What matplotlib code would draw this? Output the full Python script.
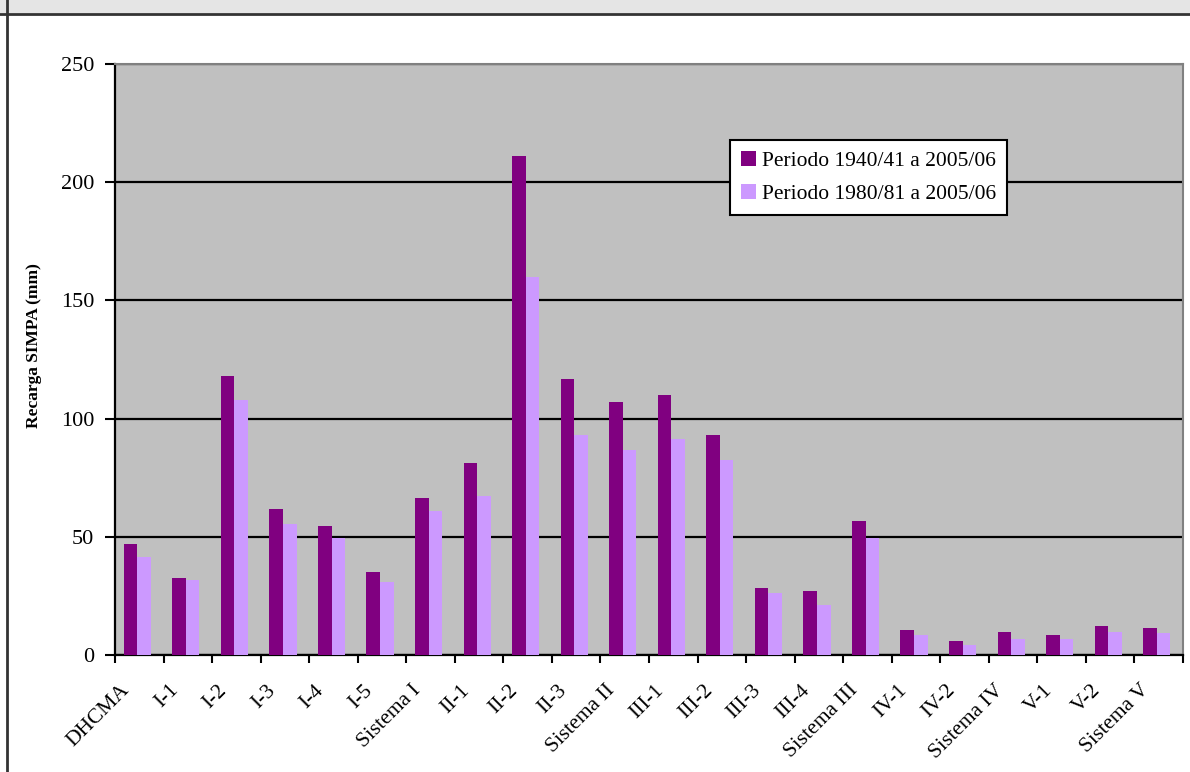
import numpy as np
import matplotlib
matplotlib.use("Agg")
import matplotlib.pyplot as plt
from matplotlib.patches import Rectangle
from matplotlib.lines import Line2D
from matplotlib.transforms import ScaledTranslation

plt.rcParams['font.family'] = ['Liberation Serif', 'DejaVu Serif']

categorias = ["DHCMA", "I-1", "I-2", "I-3", "I-4", "I-5", "Sistema I",
              "II-1", "II-2", "II-3", "Sistema II", "III-1", "III-2", "III-3",
              "III-4", "Sistema III", "IV-1", "IV-2", "Sistema IV", "V-1",
              "V-2", "Sistema V"]
periodo_1940 = [47.0, 32.6, 118.0, 61.8, 54.6, 35.1, 66.4, 81.2, 211.0, 116.8,
                107.0, 110.0, 93.0, 28.3, 27.1, 56.7, 10.6, 5.9, 9.7, 8.5,
                12.2, 11.4]
periodo_1980 = [41.5, 31.7, 108.0, 55.4, 49.5, 30.9, 60.9, 67.3, 160.0, 93.0,
                86.7, 91.4, 82.5, 26.2, 21.2, 49.5, 8.5, 4.2, 6.8, 6.8,
                9.7, 9.3]
etiquetas = ["Periodo 1940/41 a 2005/06", "Periodo 1980/81 a 2005/06"]

fig = plt.figure(figsize=(11.9, 7.72), dpi=100)
W, H = 1190, 772

# header band and frame like the spreadsheet export
fig.patches.append(Rectangle((0, 1 - 13 / H), 1, 13 / H, transform=fig.transFigure,
                             facecolor="#e5e5e5", edgecolor="none", zorder=0))
fig.lines.append(Line2D([0, 1], [1 - 14 / H, 1 - 14 / H], transform=fig.transFigure,
                        color="#333333", lw=2))
fig.lines.append(Line2D([7 / W, 7 / W], [0, 1], transform=fig.transFigure,
                        color="#333333", lw=2))

ax = fig.add_axes([115 / W, 1 - 655 / H, (1183 - 115) / W, (655 - 64) / H])
ax.set_facecolor("#c0c0c0")

x = np.arange(len(categorias))
w = 0.28
shift = -0.04
ax.bar(x + shift - w / 2, periodo_1940, w, color="#800080", label=etiquetas[0], zorder=3)
ax.bar(x + shift + w / 2, periodo_1980, w, color="#cc99ff", label=etiquetas[1], zorder=3)

ax.set_xlim(-0.5, len(categorias) - 0.5)
ax.set_ylim(0, 250)
ax.set_yticks(np.arange(0, 251, 50))
ax.yaxis.grid(True, color="black", lw=1.6, zorder=1)
ax.set_axisbelow(True)

ax.set_xticks(np.arange(-0.5, len(categorias), 1))
ax.set_xticklabels([])
ax.set_xticks(x, minor=True)
ax.set_xticklabels(categorias, minor=True, rotation=45, ha="right",
                   rotation_mode="anchor", fontsize=15.5)
ax.tick_params(axis="x", which="minor", length=0, pad=10)
ax.tick_params(axis="x", which="major", length=6, width=1.5, direction="out")
ax.tick_params(axis="y", length=7, width=1.5, labelsize=16, pad=8)

off = ScaledTranslation(-19 / 100, -12 / 100, fig.dpi_scale_trans)
for lbl in ax.get_xticklabels(minor=True):
    lbl.set_transform(lbl.get_transform() + off)

for s in ["left", "bottom"]:
    ax.spines[s].set_color("black")
    ax.spines[s].set_linewidth(1.6)
for s in ["top", "right"]:
    ax.spines[s].set_color("#808080")
    ax.spines[s].set_linewidth(1.5)

ax.set_ylabel("Recarga SIMPA (mm)", fontsize=12.5, fontweight="bold")
ax.yaxis.set_label_coords(-0.068, 0.523)

leg = ax.legend(loc="upper left", bbox_to_anchor=((730 - 115) / (1183 - 115), 1 - (140 - 64) / (655 - 64)),
                fontsize=15.5, frameon=True, fancybox=False, handlelength=0.7,
                handleheight=0.7, handletextpad=0.3, borderpad=0.5, labelspacing=0.6,
                borderaxespad=0)
leg.get_frame().set_edgecolor("black")
leg.get_frame().set_linewidth(1.5)
leg.get_frame().set_facecolor("white")
leg.get_frame().set_alpha(1)

fig.savefig("out.png", dpi=100)
